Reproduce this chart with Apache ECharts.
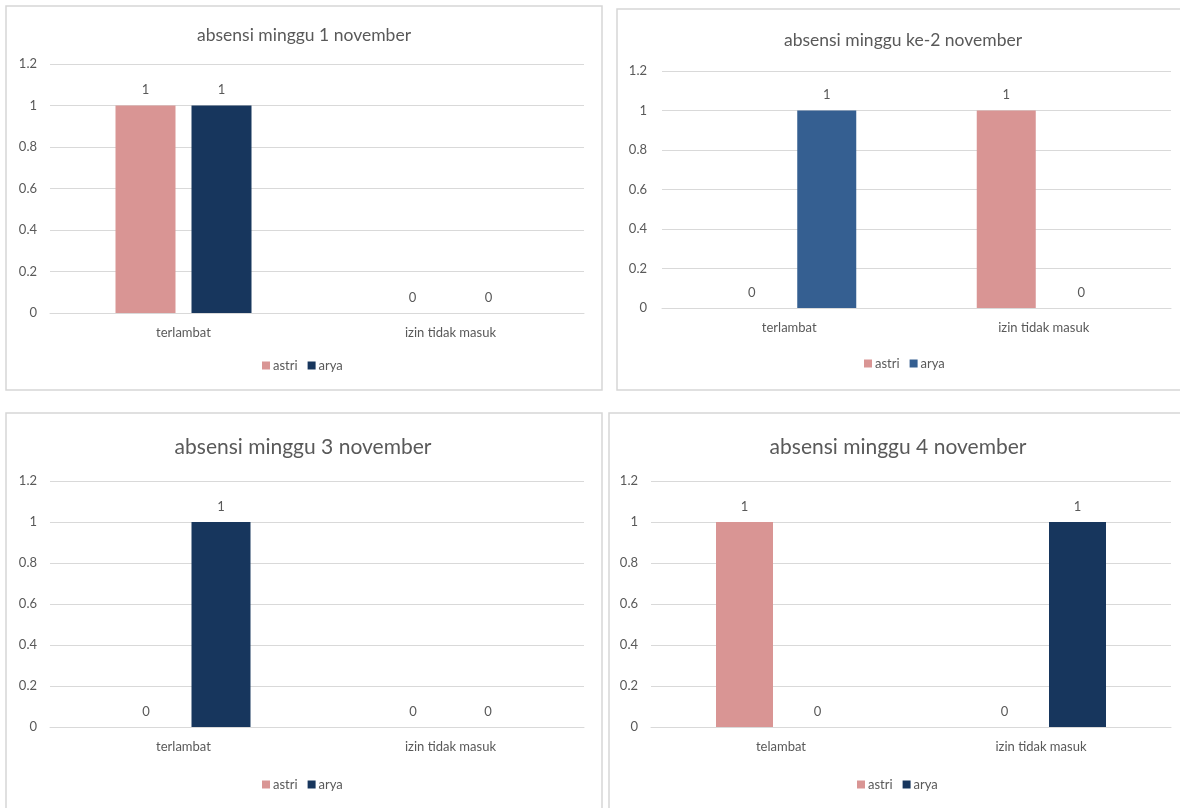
<!DOCTYPE html>
<html>
<head>
<meta charset="utf-8">
<title>absensi november</title>
<script src="https://cdn.jsdelivr.net/npm/echarts@6/dist/echarts.min.js"></script>
<style>
  html, body { margin: 0; padding: 0; background: #ffffff; }
  #chart { width: 1180px; height: 808px; }
</style>
</head>
<body>
<div id="chart"></div>
<script>
// Weekly attendance counts per student, November
const categoriesA = ['terlambat', 'izin tidak masuk'];
const categoriesB = ['telambat', 'izin tidak masuk'];
const seriesNames = ['astri', 'arya'];
const titles = [
  'absensi minggu 1 november',
  'absensi minggu ke-2 november',
  'absensi minggu 3 november',
  'absensi minggu 4 november'
];
const week1Astri = [1, 0];
const week1Arya = [1, 0];
const week2Astri = [0, 1];
const week2Arya = [1, 0];
const week3Astri = [0, 0];
const week3Arya = [1, 0];
const week4Astri = [1, 0];
const week4Arya = [0, 1];
const yTicks = [0, 0.2, 0.4, 0.6, 0.8, 1, 1.2];

const FONT = 'Lato, "Open Sans", sans-serif';
const TEXT = '#595959';
const GRID_LINE = '#d9d9d9';
const PINK = '#d99594';
const NAVY = '#17365d';
const STEEL = '#355f91';
const FS = 13;

// Layout of the four panels
const panels = [
  { box: [6, 6, 596, 384], grid: { left: 50, top: 64, width: 534, height: 249 },
    title: { x: 299, y: 21, size: 17.5 }, legend: { x: 262, y: 359 },
    cats: categoriesA, astri: week1Astri, arya: week1Arya, aryaColor: NAVY,
    barWidth: 60, yMargin: 13 },
  { box: [617, 9, 600, 381], grid: { left: 662, top: 71, width: 509, height: 237 },
    title: { x: 898, y: 26, size: 17.5 }, legend: { x: 864, y: 357 },
    cats: categoriesA, astri: week2Astri, arya: week2Arya, aryaColor: STEEL,
    barWidth: 59, yMargin: 15 },
  { box: [6, 413, 596, 420], grid: { left: 50, top: 481, width: 534, height: 246 },
    title: { x: 298, y: 432, size: 21 }, legend: { x: 262, y: 778 },
    cats: categoriesA, astri: week3Astri, arya: week3Arya, aryaColor: NAVY,
    barWidth: 59, yMargin: 13 },
  { box: [609, 413, 600, 420], grid: { left: 651, top: 481, width: 520, height: 246 },
    title: { x: 893, y: 432, size: 21 }, legend: { x: 857, y: 778 },
    cats: categoriesB, astri: week4Astri, arya: week4Arya, aryaColor: NAVY,
    barWidth: 57, yMargin: 13 }
];

const option = {
  animation: false,
  backgroundColor: '#ffffff',
  textStyle: { fontFamily: FONT },
  title: [], legend: [], grid: [], xAxis: [], yAxis: [], series: [],
  graphic: []
};

panels.forEach((p, i) => {
  option.graphic.push({
    type: 'rect', silent: true,
    shape: { x: p.box[0], y: p.box[1], width: p.box[2], height: p.box[3] },
    style: { fill: 'none', stroke: '#d6d6d6', lineWidth: 1.5 }
  });
  option.title.push({
    text: titles[i], left: p.title.x, top: p.title.y, textAlign: 'center',
    textStyle: { fontFamily: FONT, fontSize: p.title.size, fontWeight: 'normal', color: TEXT }
  });
  option.legend.push({
    left: p.legend.x, top: p.legend.y, padding: 0, itemGap: 10,
    itemWidth: 8, itemHeight: 8, icon: 'rect', selectedMode: false,
    textStyle: { fontFamily: FONT, fontSize: FS, color: TEXT, padding: [0, 0, 0, -2] },
    data: [
      { name: seriesNames[0], itemStyle: { color: PINK } },
      { name: seriesNames[1], itemStyle: { color: p.aryaColor } }
    ]
  });
  option.grid.push(Object.assign({ containLabel: false }, p.grid));
  option.xAxis.push({
    type: 'category', gridIndex: i, data: p.cats,
    axisLine: { show: true, lineStyle: { color: GRID_LINE, width: 1 } },
    axisTick: { show: false },
    axisLabel: { color: TEXT, fontFamily: FONT, fontSize: FS, margin: 13 }
  });
  option.yAxis.push({
    type: 'value', gridIndex: i, min: yTicks[0], max: yTicks[yTicks.length - 1], interval: 0.2,
    axisLine: { show: false }, axisTick: { show: false },
    splitLine: { lineStyle: { color: GRID_LINE, width: 1 } },
    axisLabel: { color: TEXT, fontFamily: FONT, fontSize: FS, margin: p.yMargin,
      formatter: v => String(Math.round(v * 10) / 10) }
  });
  const label = { show: true, position: 'top', distance: 9, color: TEXT,
    fontFamily: FONT, fontSize: FS };
  option.series.push({
    name: seriesNames[0], type: 'bar', xAxisIndex: i, yAxisIndex: i,
    data: p.astri, barWidth: p.barWidth, barGap: (16 / p.barWidth * 100) + '%',
    itemStyle: { color: PINK }, label: label
  });
  option.series.push({
    name: seriesNames[1], type: 'bar', xAxisIndex: i, yAxisIndex: i,
    data: p.arya, barWidth: p.barWidth, barGap: (16 / p.barWidth * 100) + '%',
    itemStyle: { color: p.aryaColor }, label: label
  });
});

const chart = echarts.init(document.getElementById('chart'), null, { renderer: 'canvas' });
chart.setOption(option);
</script>
</body>
</html>
